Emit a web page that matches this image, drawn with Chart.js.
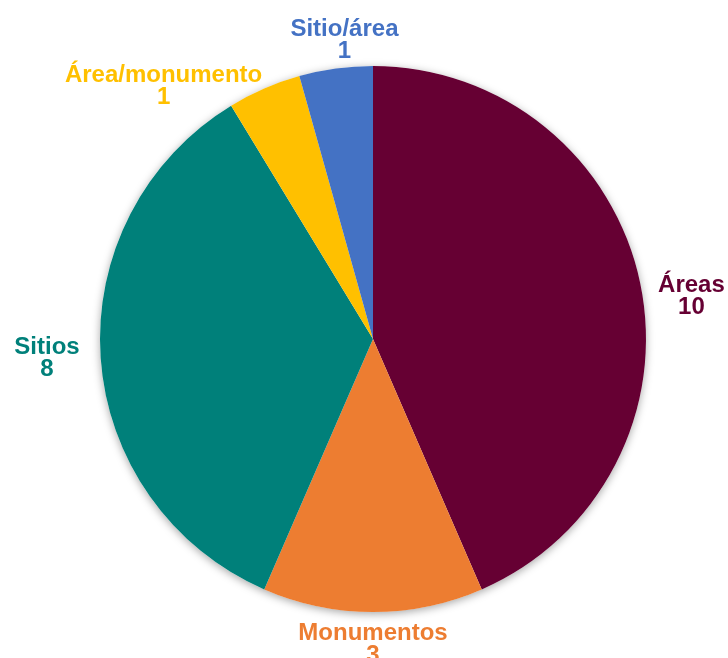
<!DOCTYPE html>
<html>
<head>
<meta charset="utf-8">
<script src="https://cdn.jsdelivr.net/npm/chart.js@4"></script>
<style>
  html, body { margin: 0; padding: 0; background: #fff; }
  canvas { display: block; }
</style>
</head>
<body>
<canvas id="pie" width="728" height="658"></canvas>
<script>
// categorías y valores
const categories = ['Áreas', 'Monumentos', 'Sitios', 'Área/monumento', 'Sitio/área'];
const counts = [10, 3, 8, 1, 1];
const sliceColors = ['#660033', '#ED7D31', '#00807A', '#FFC000', '#4472C4'];

// ajuste fino de las etiquetas (px), estilo "extremo externo" de Excel
const labelNudge = [[8, 15], [0, 0], [-11, 0], [2, 7], [10, 4]];

// sombra suave bajo el círculo completo
const pieShadow = {
    id: 'pieShadow',
    beforeDatasetsDraw(chart) {
        const arc = chart.getDatasetMeta(0).data[0];
        if (!arc) return;
        const ctx = chart.ctx;
        ctx.save();
        ctx.shadowColor = 'rgba(0,0,0,0.35)';
        ctx.shadowBlur = 8;
        ctx.shadowOffsetY = 2;
        ctx.fillStyle = '#ffffff';
        ctx.beginPath();
        ctx.arc(arc.x, arc.y, arc.outerRadius, 0, Math.PI * 2);
        ctx.fill();
        ctx.restore();
    }
};

// etiquetas fuera del sector: nombre y valor
const outsideLabels = {
    id: 'outsideLabels',
    afterDatasetsDraw(chart) {
        const ctx = chart.ctx;
        const lineH = 22;
        ctx.save();
        ctx.font = 'bold 24px "Liberation Sans", Arial, sans-serif';
        ctx.textBaseline = 'middle';
        chart.getDatasetMeta(0).data.forEach((arc, i) => {
            const mid = (arc.startAngle + arc.endAngle) / 2;
            const r = arc.outerRadius + 10;
            const ax = arc.x + Math.cos(mid) * r;
            const ay = arc.y + Math.sin(mid) * r;
            const lines = [categories[i], String(counts[i])];
            const w = Math.max(...lines.map(t => ctx.measureText(t).width));
            const h = lines.length * lineH;
            const c = Math.cos(mid), s = Math.sin(mid);
            let cx, top;
            if (Math.abs(c) < 0.3) {
                // arriba o abajo
                cx = ax;
                top = s < 0 ? ay - h : ay;
            } else {
                cx = c > 0 ? ax + w / 2 : ax - w / 2;
                top = ay - h / 2;
            }
            cx += labelNudge[i][0];
            top += labelNudge[i][1];
            ctx.fillStyle = sliceColors[i];
            ctx.textAlign = 'center';
            lines.forEach((t, k) => {
                ctx.fillText(t, cx, top + lineH / 2 + k * lineH);
            });
        });
        ctx.restore();
    }
};

new Chart(document.getElementById('pie'), {
    type: 'pie',
    data: {
        labels: categories,
        datasets: [{
            data: counts,
            backgroundColor: sliceColors,
            borderWidth: 0
        }]
    },
    options: {
        responsive: false,
        animation: false,
        layout: { padding: { top: 66, bottom: 46, left: 100, right: 82 } },
        plugins: {
            legend: { display: false },
            tooltip: { enabled: false }
        }
    },
    plugins: [pieShadow, outsideLabels]
});
</script>
</body>
</html>
